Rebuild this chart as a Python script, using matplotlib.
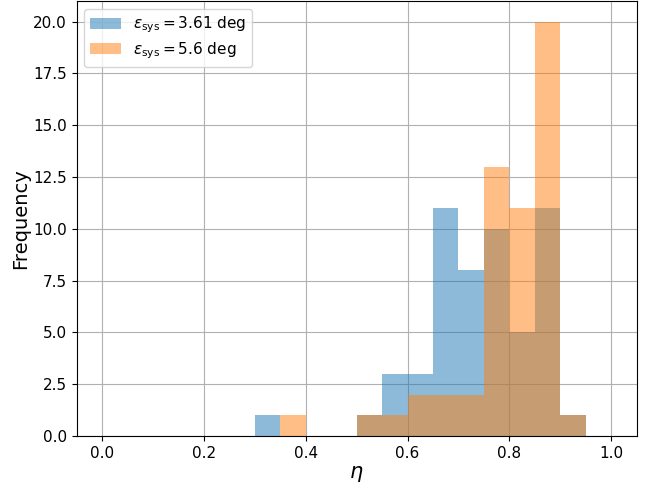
import numpy as np
import matplotlib
matplotlib.use('Agg')
import matplotlib.pyplot as plt

# histogram bins (width 0.05) and counts
bin_edges = np.linspace(0.0, 1.0, 21)
counts_361 = [0, 0, 0, 0, 0, 0, 1, 0, 0, 0, 1, 3, 3, 11, 8, 10, 5, 11, 1, 0]
counts_56 = [0, 0, 0, 0, 0, 0, 0, 1, 0, 0, 1, 1, 2, 2, 2, 13, 11, 20, 1, 0]
labels = [r'$\varepsilon_{\rm sys} = 3.61$ deg', r'$\varepsilon_{\rm sys} = 5.6$ deg']

fig, ax = plt.subplots(figsize=(6.46, 4.87), dpi=100)
fig.subplots_adjust(left=0.1186, right=0.9856, bottom=0.1047, top=0.998)

centers = (bin_edges[:-1] + bin_edges[1:]) / 2
ax.hist(centers, bins=bin_edges, weights=counts_361, alpha=0.5, color='tab:blue', label=labels[0])
ax.hist(centers, bins=bin_edges, weights=counts_56, alpha=0.5, color='tab:orange', label=labels[1])

ax.set_xlim(-0.05, 1.05)
ax.set_yticks(np.arange(0, 20.1, 2.5))
ax.grid(True)
ax.set_axisbelow(True)
ax.tick_params(labelsize=11)
ax.set_xlabel(r'$\eta$', fontsize=15, labelpad=2)
ax.set_ylabel('Frequency', fontsize=14, labelpad=2)
ax.legend(loc='upper left', fontsize=11, labelspacing=0.3)

plt.savefig('out.png', dpi=100)
